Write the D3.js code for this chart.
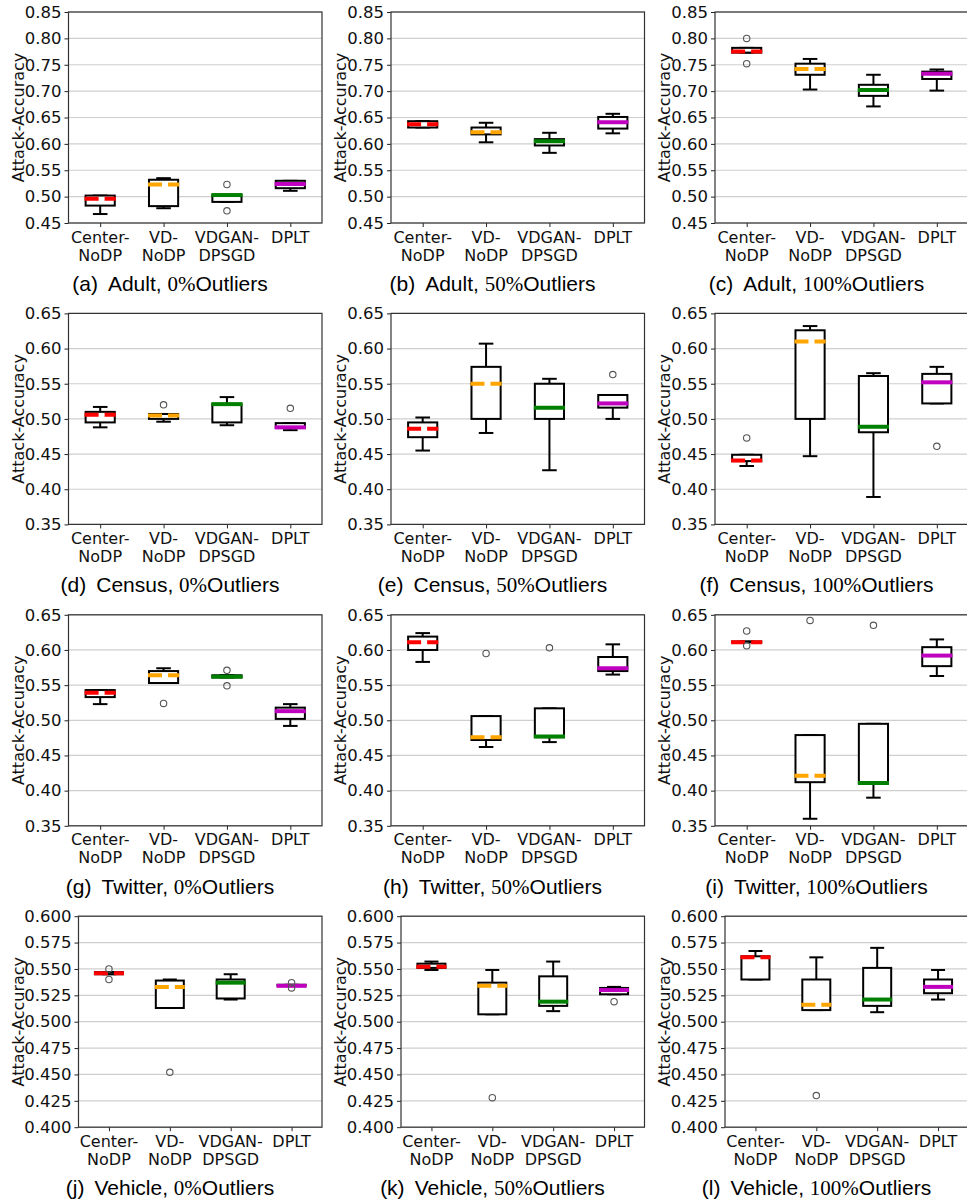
<!DOCTYPE html>
<html>
<head>
<meta charset="utf-8">
<script src="https://cdn.jsdelivr.net/npm/d3@7"></script>
<style>
  body { margin: 0; background: #fff; }
  svg { display: block; }
</style>
</head>
<body>
<svg id="chart" width="967" height="1204"></svg>
<script>
'use strict';

// boxplot categories
var methods = ['Center-NoDP', 'VD-NoDP', 'VDGAN-DPSGD', 'DPLT'];
var methodLines = [['Center-', 'NoDP'], ['VD-', 'NoDP'], ['VDGAN-', 'DPSGD'], ['DPLT']];

var datasets = ['Adult', 'Census', 'Twitter', 'Vehicle'];
var outlierPcts = ['0', '50', '100'];
var letters = ['a', 'b', 'c', 'd', 'e', 'f', 'g', 'h', 'i', 'j', 'k', 'l'];

// y tick labels per dataset row
var ticksAdult = [0.45, 0.50, 0.55, 0.60, 0.65, 0.70, 0.75, 0.80, 0.85];
var ticksCensus = [0.35, 0.40, 0.45, 0.50, 0.55, 0.60, 0.65];
var ticksTwitter = [0.35, 0.40, 0.45, 0.50, 0.55, 0.60, 0.65];
var ticksVehicle = [0.400, 0.425, 0.450, 0.475, 0.500, 0.525, 0.550, 0.575, 0.600];

// [whisker low, q1, median, q3, whisker high, outliers]
var adult0 = [
  [0.467, 0.483, 0.496, 0.502, 0.502, []],
  [0.478, 0.482, 0.523, 0.532, 0.535, []],
  [0.490, 0.490, 0.503, 0.503, 0.503, [0.523, 0.473]],
  [0.511, 0.516, 0.524, 0.530, 0.530, []]
];
var adult50 = [
  [0.631, 0.631, 0.637, 0.643, 0.643, []],
  [0.603, 0.618, 0.622, 0.631, 0.640, []],
  [0.583, 0.597, 0.605, 0.609, 0.621, []],
  [0.620, 0.629, 0.641, 0.651, 0.657, []]
];
var adult100 = [
  [0.773, 0.773, 0.775, 0.782, 0.782, [0.800, 0.752]],
  [0.703, 0.731, 0.742, 0.752, 0.761, []],
  [0.671, 0.691, 0.702, 0.712, 0.731, []],
  [0.701, 0.723, 0.733, 0.737, 0.741, []]
];
var census0 = [
  [0.488, 0.495, 0.506, 0.510, 0.517, []],
  [0.496, 0.500, 0.505, 0.507, 0.507, [0.520]],
  [0.491, 0.495, 0.521, 0.521, 0.531, []],
  [0.484, 0.487, 0.488, 0.494, 0.494, [0.515]]
];
var census50 = [
  [0.455, 0.474, 0.486, 0.495, 0.502, []],
  [0.480, 0.500, 0.550, 0.574, 0.607, []],
  [0.427, 0.500, 0.516, 0.550, 0.557, []],
  [0.500, 0.516, 0.522, 0.534, 0.534, [0.563]]
];
var census100 = [
  [0.433, 0.440, 0.441, 0.449, 0.449, [0.473]],
  [0.447, 0.500, 0.610, 0.626, 0.632, []],
  [0.389, 0.481, 0.489, 0.561, 0.565, []],
  [0.522, 0.522, 0.552, 0.564, 0.574, [0.461]]
];
var twitter0 = [
  [0.523, 0.533, 0.539, 0.543, 0.543, []],
  [0.553, 0.553, 0.564, 0.570, 0.574, [0.524]],
  [0.561, 0.561, 0.562, 0.564, 0.564, [0.571, 0.549]],
  [0.492, 0.502, 0.513, 0.518, 0.523, []]
];
var twitter50 = [
  [0.583, 0.600, 0.611, 0.619, 0.624, []],
  [0.462, 0.472, 0.476, 0.506, 0.506, [0.595]],
  [0.469, 0.476, 0.477, 0.517, 0.517, [0.603]],
  [0.565, 0.570, 0.574, 0.590, 0.608, []]
];
var twitter100 = [
  [0.611, 0.611, 0.611, 0.612, 0.612, [0.627, 0.606]],
  [0.360, 0.412, 0.421, 0.479, 0.479, [0.642]],
  [0.390, 0.411, 0.411, 0.495, 0.495, [0.635]],
  [0.563, 0.577, 0.592, 0.604, 0.615, []]
];
var vehicle0 = [
  [0.545, 0.545, 0.546, 0.547, 0.547, [0.550, 0.540]],
  [0.513, 0.513, 0.533, 0.539, 0.540, [0.452]],
  [0.521, 0.522, 0.537, 0.540, 0.545, []],
  [0.534, 0.534, 0.534, 0.535, 0.535, [0.537, 0.532]]
];
var vehicle50 = [
  [0.549, 0.551, 0.552, 0.555, 0.557, []],
  [0.507, 0.507, 0.534, 0.537, 0.549, [0.428]],
  [0.510, 0.515, 0.519, 0.543, 0.557, []],
  [0.526, 0.526, 0.530, 0.532, 0.533, [0.519]]
];
var vehicle100 = [
  [0.540, 0.540, 0.561, 0.562, 0.567, []],
  [0.511, 0.511, 0.516, 0.540, 0.561, [0.430]],
  [0.509, 0.515, 0.521, 0.551, 0.570, []],
  [0.521, 0.527, 0.533, 0.540, 0.549, []]
];

var rows = [
  { ticks: ticksAdult, fmt: '.2f', panels: [adult0, adult50, adult100] },
  { ticks: ticksCensus, fmt: '.2f', panels: [census0, census50, census100] },
  { ticks: ticksTwitter, fmt: '.2f', panels: [twitter0, twitter50, twitter100] },
  { ticks: ticksVehicle, fmt: '.3f', panels: [vehicle0, vehicle50, vehicle100] }
];

// median styles per method
var medianColors = ['#ff0000', '#ffa500', '#008000', '#bf00bf'];
var medianDash = ['14,6', '14,6', null, null];

var svg = d3.select('#chart');
svg.append('rect').attr('width', 967).attr('height', 1204).attr('fill', '#fff');

var colX = [0, 322.5, 646.5];
var rowY = 301.4;

rows.forEach(function(row, r) {
  row.panels.forEach(function(stats, c) {
    var ox = colX[c], oy = r * rowY;
    var left = ox + (r === 3 ? 78.5 : 68.5),
        right = ox + 322,
        top = oy + 12,
        bottom = oy + 223;

    var y = d3.scaleLinear()
      .domain(d3.extent(row.ticks))
      .range([bottom, top]);
    var x = d3.scalePoint()
      .domain(methods)
      .range([left, right])
      .padding(0.5);
    var step = x.step(),
        boxW = step * 0.46,
        capW = boxW / 2;

    var g = svg.append('g');

    // grid
    g.selectAll('.grid')
      .data(row.ticks)
      .enter().append('line')
      .attr('x1', left).attr('x2', right)
      .attr('y1', function(d) { return y(d); })
      .attr('y2', function(d) { return y(d); })
      .attr('stroke', '#cfcfcf')
      .attr('stroke-width', 1.2);

    // y axis
    var yAxis = g.append('g')
      .attr('transform', 'translate(' + left + ',0)')
      .call(d3.axisLeft(y).tickValues(row.ticks).tickSize(4).tickPadding(3)
        .tickFormat(d3.format(row.fmt)));
    yAxis.select('.domain').remove();
    yAxis.selectAll('.tick line').attr('stroke', '#222').attr('stroke-width', 1);
    yAxis.selectAll('.tick text')
      .attr('font-family', 'DejaVu Sans')
      .attr('font-size', 16.5)
      .attr('fill', '#111');

    // x axis
    var xAxis = g.append('g')
      .attr('transform', 'translate(0,' + bottom + ')')
      .call(d3.axisBottom(x).tickSize(4).tickFormat(''));
    xAxis.select('.domain').remove();
    xAxis.selectAll('.tick line').attr('stroke', '#222').attr('stroke-width', 1);
    xAxis.selectAll('.tick text').remove();

    methods.forEach(function(m, i) {
      var t = g.append('text')
        .attr('text-anchor', 'middle')
        .attr('font-family', 'DejaVu Sans')
        .attr('font-size', 16)
        .attr('fill', '#111');
      methodLines[i].forEach(function(line, k) {
        t.append('tspan')
          .attr('x', x(m))
          .attr('y', bottom + 19.5 + k * 18)
          .text(line);
      });
    });

    // y label
    g.append('text')
      .attr('transform', 'translate(' + (ox + 23.5) + ',' + ((top + bottom) / 2) + ') rotate(-90)')
      .attr('text-anchor', 'middle')
      .attr('font-family', 'DejaVu Sans')
      .attr('font-size', 16)
      .attr('fill', '#111')
      .text('Attack-Accuracy');

    // boxes
    var boxes = g.selectAll('.box')
      .data(stats)
      .enter().append('g');

    boxes.append('line')
      .attr('x1', function(d, i) { return x(methods[i]); })
      .attr('x2', function(d, i) { return x(methods[i]); })
      .attr('y1', function(d) { return y(d[0]); })
      .attr('y2', function(d) { return y(d[1]); })
      .attr('stroke', '#000').attr('stroke-width', 2);
    boxes.append('line')
      .attr('x1', function(d, i) { return x(methods[i]); })
      .attr('x2', function(d, i) { return x(methods[i]); })
      .attr('y1', function(d) { return y(d[3]); })
      .attr('y2', function(d) { return y(d[4]); })
      .attr('stroke', '#000').attr('stroke-width', 2);
    [0, 4].forEach(function(k) {
      boxes.append('line')
        .attr('x1', function(d, i) { return x(methods[i]) - capW / 2; })
        .attr('x2', function(d, i) { return x(methods[i]) + capW / 2; })
        .attr('y1', function(d) { return y(d[k]); })
        .attr('y2', function(d) { return y(d[k]); })
        .attr('stroke', '#000').attr('stroke-width', 2);
    });

    boxes.append('rect')
      .attr('x', function(d, i) { return x(methods[i]) - boxW / 2; })
      .attr('y', function(d) { return y(d[3]); })
      .attr('width', boxW)
      .attr('height', function(d) { return Math.max(0.5, y(d[1]) - y(d[3])); })
      .attr('fill', '#fff')
      .attr('stroke', '#000')
      .attr('stroke-width', 2);

    boxes.append('line')
      .attr('x1', function(d, i) { return x(methods[i]) - boxW / 2 - 1; })
      .attr('x2', function(d, i) { return x(methods[i]) + boxW / 2 + 1; })
      .attr('y1', function(d) { return y(d[2]); })
      .attr('y2', function(d) { return y(d[2]); })
      .attr('stroke', function(d, i) { return medianColors[i]; })
      .attr('stroke-dasharray', function(d, i) { return medianDash[i]; })
      .attr('stroke-width', 4);

    boxes.each(function(d, i) {
      d3.select(this).selectAll('circle')
        .data(d[5])
        .enter().append('circle')
        .attr('cx', x(methods[i]))
        .attr('cy', function(v) { return y(v); })
        .attr('r', 3.2)
        .attr('fill', 'none')
        .attr('stroke', '#555')
        .attr('stroke-width', 1.1);
    });

    // frame
    g.append('rect')
      .attr('x', left).attr('y', top)
      .attr('width', right - left).attr('height', bottom - top)
      .attr('fill', 'none')
      .attr('stroke', '#333')
      .attr('stroke-width', 1.2);

    // caption
    var cap = g.append('text')
      .attr('x', ox + 170)
      .attr('y', oy + 291)
      .attr('text-anchor', 'middle')
      .attr('font-family', 'Liberation Sans, Arial, sans-serif')
      .attr('font-size', 21)
      .attr('fill', '#000');
    cap.append('tspan').text('(' + letters[r * 3 + c] + ')');
    cap.append('tspan').attr('dx', 10).text(datasets[r] + ', ');
    cap.append('tspan').attr('font-family', 'Liberation Serif, serif').text(outlierPcts[c] + '%');
    cap.append('tspan').text('Outliers');
  });
});
</script>
</body>
</html>
